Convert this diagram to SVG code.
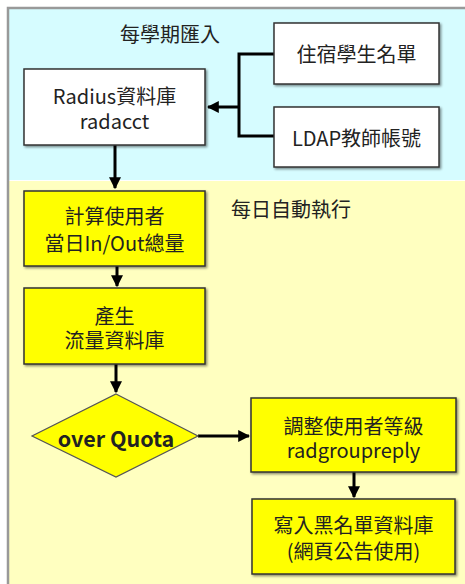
<svg xmlns="http://www.w3.org/2000/svg" width="465" height="584" viewBox="0 0 465 584">
<defs>
<marker id="ah" markerWidth="4" markerHeight="4" refX="3.6" refY="2" orient="auto" markerUnits="strokeWidth">
<path d="M0,0 L4,2 L0,4 Z" fill="#000"/>
</marker>
<filter id="sh" x="-10%" y="-10%" width="130%" height="130%">
<feDropShadow dx="1.5" dy="1.5" stdDeviation="0.8" flood-color="#000" flood-opacity="0.45"/>
</filter>
<style>
text{font-family:"Noto Sans CJK TC","Noto Sans",sans-serif;font-size:20px;fill:#222;text-anchor:middle;dominant-baseline:central}
.box{stroke:#333;stroke-width:1.5;filter:url(#sh)}
.w{fill:#fff}
.y{fill:#ffff00}
.c{fill:none;stroke:#000;stroke-width:3}
.lbl{text-anchor:start}
</style>
</defs>
<rect x="0" y="0" width="465" height="584" fill="#fff"/>
<rect x="8" y="8" width="457" height="172" fill="#d6fcff"/>
<rect x="8" y="181" width="457" height="403" fill="#ffffc0"/>
<path d="M8,584 V8 H465" fill="none" stroke="#999" stroke-width="2.5"/>
<text x="170" y="33">每學期匯入</text>
<text class="lbl" x="231" y="208">每日自動執行</text>
<g id="connectors">
<path class="c" d="M274,54 H239 V136 H274"/>
<path class="c" d="M239,107 H208" marker-end="url(#ah)"/>
<path class="c" d="M115,145 V188" marker-end="url(#ah)"/>
<path class="c" d="M117,266 V286" marker-end="url(#ah)"/>
<path class="c" d="M116,364 V392" marker-end="url(#ah)"/>
<path class="c" d="M198,436 H249" marker-end="url(#ah)"/>
<path class="c" d="M354,472 V497" marker-end="url(#ah)"/>
</g>
<g id="dorm">
<rect class="box w" x="274" y="23" width="165" height="61"/>
<text x="356.5" y="53">住宿學生名單</text>
</g>
<g id="ldap">
<rect class="box w" x="274" y="107" width="165" height="60"/>
<text x="356.5" y="137">LDAP教師帳號</text>
</g>
<g id="radius">
<rect class="box w" x="24" y="69" width="181" height="76"/>
<text x="114.5" y="95">Radius資料庫</text>
<text x="114.5" y="120">radacct</text>
</g>
<g id="calc">
<rect class="box y" x="24" y="191" width="181" height="75"/>
<text x="114.5" y="215">計算使用者</text>
<text x="114.5" y="242">當日In/Out總量</text>
</g>
<g id="gen">
<rect class="box y" x="24" y="288" width="181" height="76"/>
<text x="114.5" y="315">產生</text>
<text x="114.5" y="339">流量資料庫</text>
</g>
<g id="quota">
<polygon points="116,394 198,436 116,477 32,436" fill="#ffff00" stroke="#555" stroke-width="1.2"/>
<text x="116" y="437" style="font-weight:bold;font-size:21.5px">over Quota</text>
</g>
<g id="adjust">
<rect class="box y" x="251" y="398" width="205" height="74"/>
<text x="353.5" y="425">調整使用者等級</text>
<text x="353.5" y="449">radgroupreply</text>
</g>
<g id="blacklist">
<rect class="box y" x="252" y="499" width="203" height="75"/>
<text x="353.5" y="524">寫入黑名單資料庫</text>
<text x="353.5" y="550">(網頁公告使用)</text>
</g>
</svg>
